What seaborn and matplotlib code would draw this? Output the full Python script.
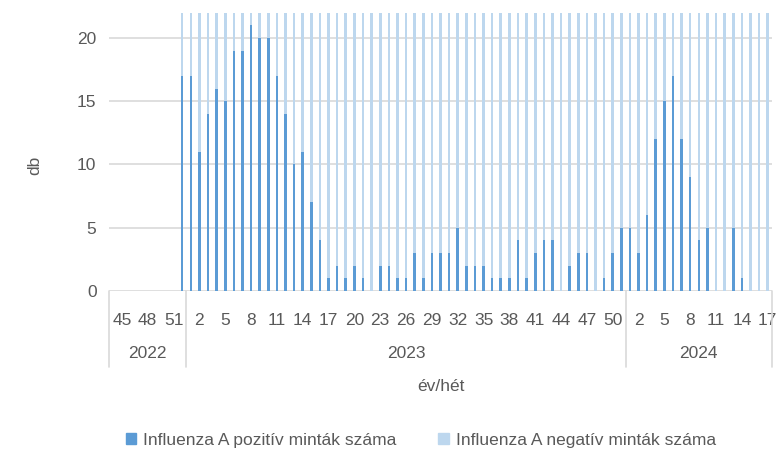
import pandas as pd
import matplotlib.pyplot as plt
import seaborn as sns
from matplotlib.patches import Patch
from matplotlib.transforms import blended_transform_factory

# weeks per year (2023 has 51 reported weeks in the source chart)
years = ["2022", "2023", "2024"]
weeks_2022 = [44, 45, 46, 47, 48, 49, 50, 51, 52]
weeks_2023 = list(range(1, 52))
weeks_2024 = list(range(1, 18))

# positive sample counts (None = no data)
positive_2022 = [None, None, None, None, None, None, None, None, 17]
positive_2023 = [17, 11, 14, 16, 15, 19, 19, 21, 20, 20, 17, 14, 10, 11, 7, 4, 1,
                 2, 1, 2, 1, 0, 2, 2, 1, 1, 3, 1, 3, 3, 3, 5, 2, 2, 2, 1, 1, 1,
                 4, 1, 3, 4, 4, 0, 2, 3, 3, 0, 1, 3, 5]
positive_2024 = [5, 3, 6, 12, 15, 17, 12, 9, 4, 5, 0, 0, 5, 1, 0, 0, 0]

# negative sample counts - all run off the top of the chart, rough guesses
negative_2022 = [None, None, None, None, None, None, None, None, 58]
negative_2023 = [64, 70, 66, 61, 63, 59, 62, 55, 57, 60, 58, 63, 61, 66, 60, 57,
                 54, 52, 55, 50, 49, 47, 51, 48, 46, 50, 45, 48, 47, 44, 46, 49,
                 45, 48, 47, 50, 46, 49, 51, 48, 52, 50, 53, 49, 51, 54, 52, 50,
                 55, 57, 53]
negative_2024 = [60, 62, 64, 66, 63, 61, 65, 60, 58, 57, 55, 54, 56, 52, 50, 51, 49]

rows = []
for yr, wks, pos, neg in [
    ("2022", weeks_2022, positive_2022, negative_2022),
    ("2023", weeks_2023, positive_2023, negative_2023),
    ("2024", weeks_2024, positive_2024, negative_2024),
]:
    for w, p, n in zip(wks, pos, neg):
        rows.append({"year": yr, "week": w, "cat": f"{yr}-{w}",
                     "pos": p, "total": None if p is None else p + n})
df = pd.DataFrame(rows)
df["pos"] = df["pos"].astype(float)
df["total"] = df["total"].astype(float)
cats = df["cat"].tolist()

dark = "#5B9BD5"
light = "#BDD7EE"
grey_txt = "#595959"
grid_col = "#D9D9D9"

sns.set_theme(style="white")
plt.rcParams["font.family"] = ["Liberation Sans", "DejaVu Sans"]

fig = plt.figure(figsize=(7.8, 4.73), dpi=100)
ax = fig.add_axes([109 / 780, 1 - 291 / 473, 663 / 780, 278.3 / 473])

sns.barplot(data=df, x="cat", y="total", order=cats, color=light, width=0.3,
            saturation=1, errorbar=None, linewidth=0, edgecolor="none", ax=ax)
sns.barplot(data=df, x="cat", y="pos", order=cats, color=dark, width=0.3,
            saturation=1, errorbar=None, linewidth=0, edgecolor="none", ax=ax)

ax.set_ylim(0, 22)
ax.set_xlim(-0.5, len(cats) - 0.5)
ax.set_yticks([0, 5, 10, 15, 20])
ax.yaxis.grid(True, color=grid_col, linewidth=1.2)
ax.set_axisbelow(True)
for s in ax.spines.values():
    s.set_visible(False)
ax.tick_params(axis="y", length=0, labelsize=12.5, colors=grey_txt, pad=9)

# first-level labels: every third week
idx = [i for i in range(len(cats)) if i % 3 == 1]
ax.set_xticks(idx)
ax.set_xticklabels([str(df["week"][i]) for i in idx])
ax.tick_params(axis="x", length=0, labelsize=12.5, colors=grey_txt, pad=16)
ax.set_xlabel("")
ax.set_ylabel("")

# second-level (year) labels and separators
trans = blended_transform_factory(ax.transData, ax.transAxes)
bounds = [-0.5]
start = -0.5
for yr in years:
    n = (df["year"] == yr).sum()
    ax.text(start + n / 2, -0.223, yr, transform=trans, ha="center", va="center",
            fontsize=12.5, color=grey_txt)
    start += n
    bounds.append(start)
for b in bounds:
    ax.plot([b, b], [0, -0.273], transform=trans, color=grid_col, linewidth=1.2,
            clip_on=False)

fig.text(441 / 780, 1 - 386 / 473, "év/hét", ha="center", va="center",
         fontsize=12.5, color=grey_txt)
fig.text(35 / 780, 1 - 165 / 473, "db", ha="center", va="center", rotation=90,
         fontsize=12.5, color=grey_txt)

handles = [Patch(color=dark, label="Influenza A pozitív minták száma"),
           Patch(color=light, label="Influenza A negatív minták száma")]
fig.legend(handles=handles, loc="center", bbox_to_anchor=(421 / 780, 1 - 440 / 473),
           ncol=2, frameon=False, fontsize=12.5, handlelength=0.6, handleheight=0.6,
           handletextpad=0.4, columnspacing=2.4, labelcolor=grey_txt)

fig.savefig("out.png", dpi=100)
